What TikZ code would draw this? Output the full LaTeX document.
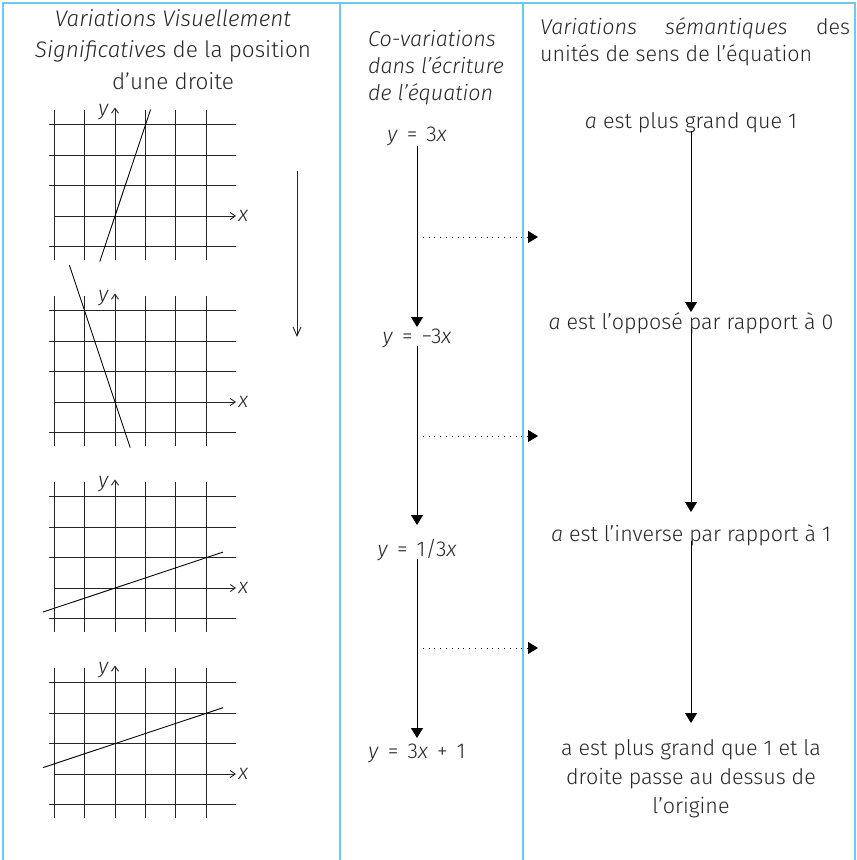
\documentclass[tikz,border=0pt]{standalone}
\usepackage{fontspec}
\setmainfont{Fira Sans}[UprightFont=* Light, ItalicFont=* Light Italic]
\usetikzlibrary{arrows.meta,calc}
\definecolor{frameblue}{RGB}{110,200,235}
\newcommand{\eqs}{\hspace{0.42em}}
\tikzset{
  gridline/.style={line width=0.9pt, black!85},
  axisarrow/.style={-{Straight Barb[length=5pt,width=7pt]}, line width=0.9pt, black!85},
  txt/.style={inner sep=0pt, font=\fontsize{21.5}{27}\selectfont, text=black!85},
  flowarrow/.style={-{Triangle[length=10pt,width=12pt]}, line width=0.9pt},
  dotarrow/.style={-{Triangle[length=10pt,width=12pt]}, line width=0.8pt, dash pattern=on 0.8pt off 5pt},
  bigarrow/.style={-{Straight Barb[length=9pt,width=8pt]}, line width=0.9pt, black!85},
  border/.style={frameblue, line width=1.6pt}
}
\newcommand{\mygrid}[3]{%
  \begin{scope}[shift={(115,#1)}, x=30.4pt, y=30.4pt]
    \foreach \i in {-2,-1,1,2,3} \draw[gridline] (\i,-1.45) -- (\i,3.5);
    \foreach \j in {-1,1,2,3} \draw[gridline] (-2.17,\j) -- (3.98,\j);
    \draw[axisarrow] (-2,0) -- (3.98,0);
    \draw[axisarrow] (0,-1.45) -- (0,3.57);
    \node[txt, anchor=base east] at (-0.2,3.3) {\textit{y}};
    \node[txt, anchor=base west] at (4.05,-0.17) {\textit{x}};
    \draw[gridline, black] (#2) -- (#3);
  \end{scope}}
\begin{document}
\begin{tikzpicture}[x=1pt,y=-1pt]
  \useasboundingbox (0,0) rectangle (857,860);
  % frame
  \draw[border] (3,860) -- (3,3) -- (855,3) -- (855,860);
  \draw[border] (340,3) -- (340,860);
  \draw[border] (523,3) -- (523,860);

  % headers
  \node[txt, anchor=north, align=center, font=\fontsize{22.5}{31.5}\selectfont] (h1) at (173,9)
    {\textit{Variations Visuellement}\\ \textit{Significatives} de la position\\ d’une droite};
  \node[txt, anchor=north west, align=left] (h2) at (368,30)
    {\textit{Co-variations}\\ \textit{dans l’écriture}\\ \textit{de l’équation}};
  \node[txt, anchor=north west, text width=310pt, align=justify] (h3) at (540,17)
    {\textit{Variations sémantiques} des unités de sens de l’équation};

  % grids
  \mygrid{216}{-0.5,-1.5}{1.17,3.5}
  \mygrid{402}{-1.5,4.5}{0.5,-1.5}
  \mygrid{588}{-2.37,-0.79}{3.55,1.18}
  \mygrid{774}{-2.37,0.21}{3.55,2.18}

  % left column arrow
  \coordinate (la1) at (297,171);
  \coordinate (la2) at (297,337);
  \draw[bigarrow] (la1) -- (la2);

  % equations
  \node[txt, anchor=base] (e1) at (417,141) {\textit{y}\eqs=\eqs3\textit{x}};
  \node[txt, anchor=base] (e2) at (417,343) {\textit{y}\eqs=\eqs−3\textit{x}};
  \node[txt, anchor=base] (e3) at (417,556) {\textit{y}\eqs=\eqs1/3\textit{x}};
  \node[txt, anchor=base] (e4) at (417,758) {\textit{y}\eqs=\eqs3\textit{x}\eqs+\eqs1};
  \draw[flowarrow] ([yshift=-5pt]e1.base) -- ([yshift=16pt]e2.base);
  \draw[flowarrow] ([yshift=-3pt]e2.base) -- ([yshift=31pt]e3.base);
  \draw[flowarrow] ([yshift=-3pt]e3.base) -- ([yshift=20pt]e4.base);

  % dotted arrows
  \coordinate (p1) at (417,237); \coordinate (q1) at (538,237);
  \coordinate (p2) at (417,436); \coordinate (q2) at (538,436);
  \coordinate (p3) at (417,648); \coordinate (q3) at (538,648);
  \draw[dotarrow] (p1) -- (q1);
  \draw[dotarrow] (p2) -- (q2);
  \draw[dotarrow] (p3) -- (q3);

  % semantic units
  \node[txt, anchor=base] (t1) at (691,128) {\textit{a} est plus grand que 1};
  \node[txt, anchor=base] (t2) at (691,329) {\textit{a} est l’opposé par rapport à 0};
  \node[txt, anchor=base] (t3) at (691,541) {\textit{a} est l’inverse par rapport à 1};
  \node[txt, anchor=north, align=center, font=\fontsize{21.5}{29}\selectfont] (t4) at (691,739)
    {a est plus grand que 1 et la\\ droite passe au dessus de\\ l’origine};
  \draw[flowarrow] ([yshift=-3pt]t1.base) -- ([yshift=17pt]t2.base);
  \draw[flowarrow] (t2.base) -- ([yshift=29pt]t3.base);
  \draw[flowarrow] (t3.base) -- ([yshift=16pt]t4.north);
\end{tikzpicture}
\end{document}
